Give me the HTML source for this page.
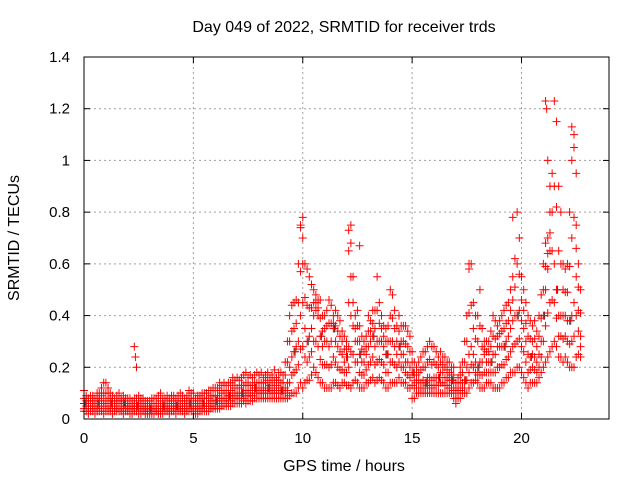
<!DOCTYPE html>
<html><head><meta charset="utf-8"><style>
body{margin:0;background:#fff;}
svg{display:block;font-family:"Liberation Sans",sans-serif;}
</style></head><body>
<svg id="chart" width="640" height="480">
<text x="344" y="32" text-anchor="middle" font-size="16">Day 049 of 2022, SRMTID for receiver trds</text>
<text x="0" y="0" transform="translate(19,238) rotate(-90)" text-anchor="middle" font-size="16">SRMTID / TECUs</text>
<text x="344" y="471" text-anchor="middle" font-size="16">GPS time / hours</text>
<g id="grid"></g><g id="marks"></g><g id="axes"></g>
</svg>
<script>
const xTicks=[0,5,10,15,20];
const yTicks=[0,0.2,0.4,0.6,0.8,1,1.2,1.4];
const yTickLabels=["0","0.2","0.4","0.6","0.8","1","1.2","1.4"];
const tStart=0, tStep=0.1;
const lo=[3,3,2,3,3,2,3,3,3,2, 3,3,3,2,3,3,3,3,2,3, 3,2,2,3,3,2,2,3,2,2, 2,2,2,3,2,2,2,3,3,2, 3,3,2,3,3,3,2,3,3,3, 3,2,2,3,3,3,3,3,4,4, 4,4,4,5,5,5,5,5,6,6, 6,6,6,7,6,7,7,7,8,8, 8,8,8,8,8,8,8,8,8,8, 8,8,8,8,9,10,10,10,12,14, 12,14,15,15,17,20,18,16,14,14, 12,12,12,12,14,14,13,12,14,14, 13,13,12,14,15,14,12,12,12,14, 14,15,16,14,15,16,15,14,12,12, 14,14,14,14,16,14,14,14,12,12, 8,8,10,10,10,10,10,10,10,10, 10,10,10,10,10,10,10,10,10,8, 6,8,8,10,10,10,12,14,14,15, 14,12,12,12,14,14,14,12,12,12, 12,14,14,16,16,18,18,18,20,20, 18,16,14,12,14,14,14,14,16,18, 20,22,24,26,28,30,28,24,24,22, 24,22,20,20,20,24,25,24];
const q1=[4,5,4,4,5,4,4,5,4,5, 5,5,4,4,4,4,4,4,4,4, 4,4,4,4,4,4,4,4,3,3, 3,3,3,3,3,3,4,4,4,3, 4,4,4,4,4,4,4,4,4,5, 4,4,4,4,4,5,5,5,5,5, 5,6,6,6,7,6,7,7,8,8, 8,8,8,8,9,9,9,9,10,10, 10,10,10,10,10,10,10,10,10,10, 10,10,10,11,14,17,18,19,21,27, 28,24,22,24,26,30,30,28,23,21, 21,21,20,21,24,22,20,19,19,18, 18,20,26,25,22,22,18,17,17,19, 21,22,24,21,22,23,22,21,18,18, 22,22,21,20,22,20,20,18,17,16, 13,12,12,12,12,12,12,13,13,12, 13,13,13,14,14,13,13,12,12,11, 8,10,11,12,12,15,18,21,20,18, 17,17,17,18,18,18,18,18,18,20, 20,21,21,23,24,26,28,29,30,31, 28,26,22,18,19,20,19,18,20,24, 30,36,41,45,46,45,39,32,32,31, 32,30,29,30,32,40,34,28];
const mid=[6,7,5,6,6,5,6,7,6,7, 7,8,6,6,5,6,5,6,6,5, 5,5,5,5,5,6,5,5,4,4, 4,4,5,4,4,5,5,5,5,4, 5,5,5,6,5,5,5,6,6,6, 5,5,5,5,6,6,6,6,7,7, 7,7,8,8,8,8,9,9,10,10, 9,10,10,10,11,11,10,11,12,11, 11,11,12,12,12,11,11,12,11,12, 11,11,12,14,20,24,26,28,30,40, 45,35,30,32,35,40,42,40,32,28, 30,30,28,30,35,30,28,26,25,22, 24,28,40,36,30,30,25,22,22,25, 28,30,32,28,30,30,30,28,25,25, 30,30,28,25,28,25,25,22,22,20, 18,15,14,15,14,15,14,16,16,15, 16,16,16,18,18,16,16,15,15,14, 10,12,14,14,15,20,25,28,25,22, 20,22,22,25,22,22,22,25,25,28, 28,28,28,30,32,35,38,40,40,42, 38,35,30,25,24,25,24,22,25,30, 40,50,58,65,65,60,50,40,40,40, 40,38,38,40,45,55,42,32];
const q3=[8,8,7,7,7,6,8,8,9,10, 10,10,8,7,6,7,7,7,7,6, 6,6,6,6,6,7,6,6,5,5, 5,6,6,6,6,7,6,6,7,6, 7,7,6,7,7,7,6,7,8,8, 7,6,7,7,8,8,8,8,9,9, 9,9,11,10,11,10,11,11,13,12, 12,12,13,13,14,13,13,13,14,14, 14,14,14,14,15,13,14,15,13,15, 14,14,17,22,30,34,35,37,45,57, 60,47,44,43,43,45,45,43,39,34, 35,36,37,37,37,36,34,32,30,27, 27,45,55,45,35,36,30,27,26,28, 34,34,37,35,42,37,35,32,30,30, 40,39,35,30,34,30,30,29,28,26, 22,18,17,18,19,20,20,22,23,21, 22,21,20,22,21,20,19,18,17,17, 12,14,17,18,22,30,41,44,35,31, 30,36,28,27,26,26,28,32,31,32, 33,34,35,37,38,42,46,51,60,56, 46,42,37,32,31,30,31,28,32,39, 50,59,64,72,80,90,82,65,60,50, 49,49,59,70,78,75,51,41];
const hi=[11,9,8,9,9,8,10,10,12,14, 14,12,10,9,8,9,10,8,9,8, 8,8,7,8,8,9,8,8,7,7, 7,8,8,8,9,10,8,8,9,8, 9,9,8,9,10,9,8,9,11,10, 10,8,9,9,10,10,10,11,11,12, 12,12,14,13,14,13,14,14,16,15, 16,15,16,17,18,16,17,16,17,18, 17,18,16,17,18,16,17,19,16,18, 18,17,22,30,40,44,45,46,60,75, 78,60,58,55,52,50,48,46,46,40, 40,42,46,44,40,42,40,38,34,32, 30,65,75,55,40,42,36,32,30,32, 40,38,42,42,55,45,40,36,35,36, 50,48,42,36,40,36,36,36,34,32, 26,22,20,22,24,26,26,28,30,28, 28,26,24,26,24,24,22,22,20,20, 14,16,20,22,30,40,58,60,45,40, 40,50,35,30,30,30,34,40,38,36, 38,40,42,44,45,50,55,62,80,70, 55,50,45,40,38,36,38,34,40,48, 60,68,70,80,95,123,115,90,80,60, 58,60,80,100,110,95,60,50];
const spikeT=[2.3,2.35,2.4,9.9,10.0,12.1,12.2,12.6,17.6,19.6,21.1,21.15,21.2,21.3,22.3,22.4,22.5];
const spikeV=[0.28,0.24,0.2,0.74,0.7,0.73,0.68,0.67,0.6,0.78,1.23,1.2,1.0,0.9,1.13,1.05,0.66];

const X0=84,X1=609,Y0=419,Y1=57;
const xs=t=>X0+(t/24)*(X1-X0);
const ys=v=>Y0-(v/1.4)*(Y0-Y1);
const NS="http://www.w3.org/2000/svg";
function mk(tag,attrs,parent){const e=document.createElementNS(NS,tag);for(const k in attrs)e.setAttribute(k,attrs[k]);parent.appendChild(e);return e;}
const grid=document.getElementById('grid'),marks=document.getElementById('marks'),axes=document.getElementById('axes');
xTicks.forEach(t=>{if(t>0){const l=mk('line',{x1:xs(t),x2:xs(t),y1:Y0,y2:Y1,stroke:'#a0a0a0','stroke-dasharray':'2,3'},grid);

}
mk('line',{x1:xs(t),x2:xs(t),y1:Y0,y2:Y0-6,stroke:'#000'},axes);mk('line',{x1:xs(t),x2:xs(t),y1:Y1,y2:Y1+6,stroke:'#000'},axes);
const tx=mk('text',{x:xs(t),y:Y0+24,'text-anchor':'middle','font-size':15},axes);tx.textContent=t;

});
yTicks.forEach((v,i)=>{if(v>0&&v<1.4){const l=mk('line',{x1:X0,x2:X1,y1:ys(v),y2:ys(v),stroke:'#a0a0a0','stroke-dasharray':'2,3'},grid);

}
mk('line',{x1:X0,x2:X0+6,y1:ys(v),y2:ys(v),stroke:'#000'},axes);mk('line',{x1:X1,x2:X1-6,y1:ys(v),y2:ys(v),stroke:'#000'},axes);
const tx=mk('text',{x:X0-14,y:ys(v)+5,'text-anchor':'end','font-size':15},axes);tx.textContent=yTickLabels[i];

});
const fr=mk('rect',{x:X0,y:Y1,width:X1-X0,height:Y0-Y1,fill:'none',stroke:'#000'},axes);


function cross(t,v,col,name){const x=xs(t),y=ys(v);
const p=mk('path',{d:`M${x-4},${y}h8M${x},${y-4}v8`,stroke:col,'stroke-width':1,fill:'none'},marks);

}
mid.forEach((v,i)=>{if(i%6===0)cross(tStart+i*tStep+0.05,v/100,'#333','black-point');});
[lo,q1,mid,q3,hi].forEach(arr=>arr.forEach((v,i)=>cross(tStart+i*tStep,v/100,'#f00','red-point')));
spikeT.forEach((t,i)=>cross(t,spikeV[i],'#f00','spike-point'));
</script>
</body></html>
